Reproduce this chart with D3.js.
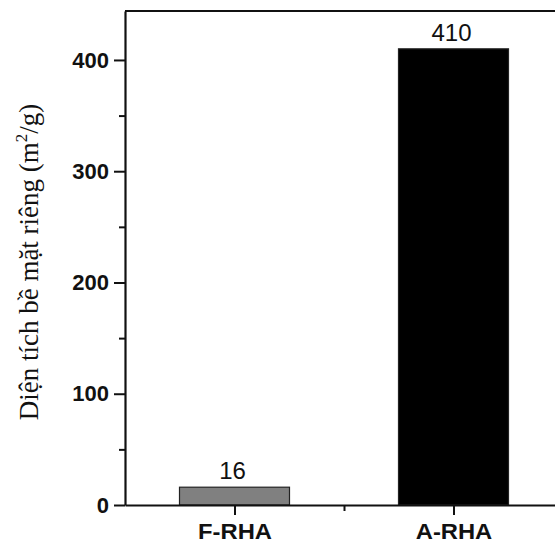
<!DOCTYPE html>
<html>
<head>
<meta charset="utf-8">
<script src="https://d3js.org/d3.v7.min.js"></script>
<style>
  body { margin: 0; background: #fff; overflow: hidden; }
  svg { display: block; }
</style>
</head>
<body>
<svg id="chart" width="555" height="544"></svg>
<script>
// chart data
const categories = ["F-RHA", "A-RHA"];
const values = [16, 410];
const barColors = ["#808080", "#000000"];
const yTicks = [0, 100, 200, 300, 400];
const yMinorTicks = [50, 150, 250, 350];

const svg = d3.select("#chart");
const margin = {left: 125, top: 11, right: -8, bottom: 39};
const width = 555 - margin.left - margin.right;
const height = 544 - margin.top - margin.bottom;

const g = svg.append("g").attr("transform", `translate(${margin.left},${margin.top})`);

const x = d3.scaleLinear().domain([0, categories.length]).range([0, width]);
const y = d3.scaleLinear().domain([0, 444]).range([height, 0]);
const barW = 110;
const sans = "Arial, 'Liberation Sans', sans-serif";

// bars
g.selectAll(".bar")
  .data(values)
  .enter().append("rect")
  .attr("class", "bar")
  .attr("x", (d, i) => x(i + 0.5) - barW / 2)
  .attr("y", d => y(d))
  .attr("width", barW)
  .attr("height", d => y(0) - y(d))
  .attr("fill", (d, i) => barColors[i])
  .attr("stroke", "#222")
  .attr("stroke-width", 1.2);

// value labels
g.selectAll(".val")
  .data(values)
  .enter().append("text")
  .attr("x", (d, i) => x(i + 0.5) - 2)
  .attr("y", d => y(d) - 8)
  .attr("text-anchor", "middle")
  .style("font-family", sans)
  .style("font-size", "24px")
  .attr("fill", "#111")
  .text(d => d);

// top border line
g.append("line")
  .attr("x1", 0).attr("x2", width)
  .attr("y1", 0).attr("y2", 0)
  .attr("stroke", "#111")
  .attr("stroke-width", 2);

// y axis
const yAxis = g.append("g")
  .call(d3.axisLeft(y).tickValues(yTicks).tickSize(11).tickSizeOuter(0).tickPadding(5));
yAxis.select(".domain").attr("stroke-width", 2.2).attr("stroke", "#111");
yAxis.selectAll(".tick line").attr("stroke-width", 2).attr("stroke", "#111");
yAxis.selectAll("text")
  .style("font-family", sans)
  .style("font-size", "22px")
  .style("font-weight", "bold")
  .attr("fill", "#111");

g.append("g")
  .call(d3.axisLeft(y).tickValues(yMinorTicks).tickSize(6).tickFormat(""))
  .call(a => a.select(".domain").remove())
  .selectAll(".tick line").attr("stroke-width", 2).attr("stroke", "#111");

// x axis
const xAxis = g.append("g")
  .attr("transform", `translate(0,${height})`)
  .call(d3.axisBottom(x).tickValues(categories.map((c, i) => i + 0.5))
    .tickFormat((d, i) => categories[i]).tickSize(10).tickSizeOuter(0).tickPadding(8));
xAxis.select(".domain").attr("stroke-width", 2.2).attr("stroke", "#111");
xAxis.selectAll(".tick line").attr("stroke-width", 2).attr("stroke", "#111");
xAxis.selectAll("text")
  .style("font-family", sans)
  .style("font-size", "22px")
  .style("font-weight", "bold")
  .attr("fill", "#111")
  .each(function() {
    const w = this.getComputedTextLength();
    d3.select(this).attr("textLength", w * 1.08).attr("lengthAdjust", "spacingAndGlyphs");
  });

g.append("g")
  .attr("transform", `translate(0,${height})`)
  .call(d3.axisBottom(x).tickValues(d3.range(1, categories.length)).tickSize(6).tickFormat(""))
  .call(a => a.select(".domain").remove())
  .selectAll(".tick line").attr("stroke-width", 2).attr("stroke", "#111");

// y axis title
const title = svg.append("text")
  .attr("transform", `translate(38,262) rotate(-90)`)
  .attr("text-anchor", "middle")
  .style("font-family", "'Liberation Serif', 'Times New Roman', serif")
  .style("font-size", "27px")
  .attr("fill", "#111");
title.append("tspan").text("Diện tích bề mặt riêng (m");
title.append("tspan").attr("dy", -11).style("font-size", "17px").text("2");
title.append("tspan").attr("dy", 11).text("/g)");
</script>
</body>
</html>
